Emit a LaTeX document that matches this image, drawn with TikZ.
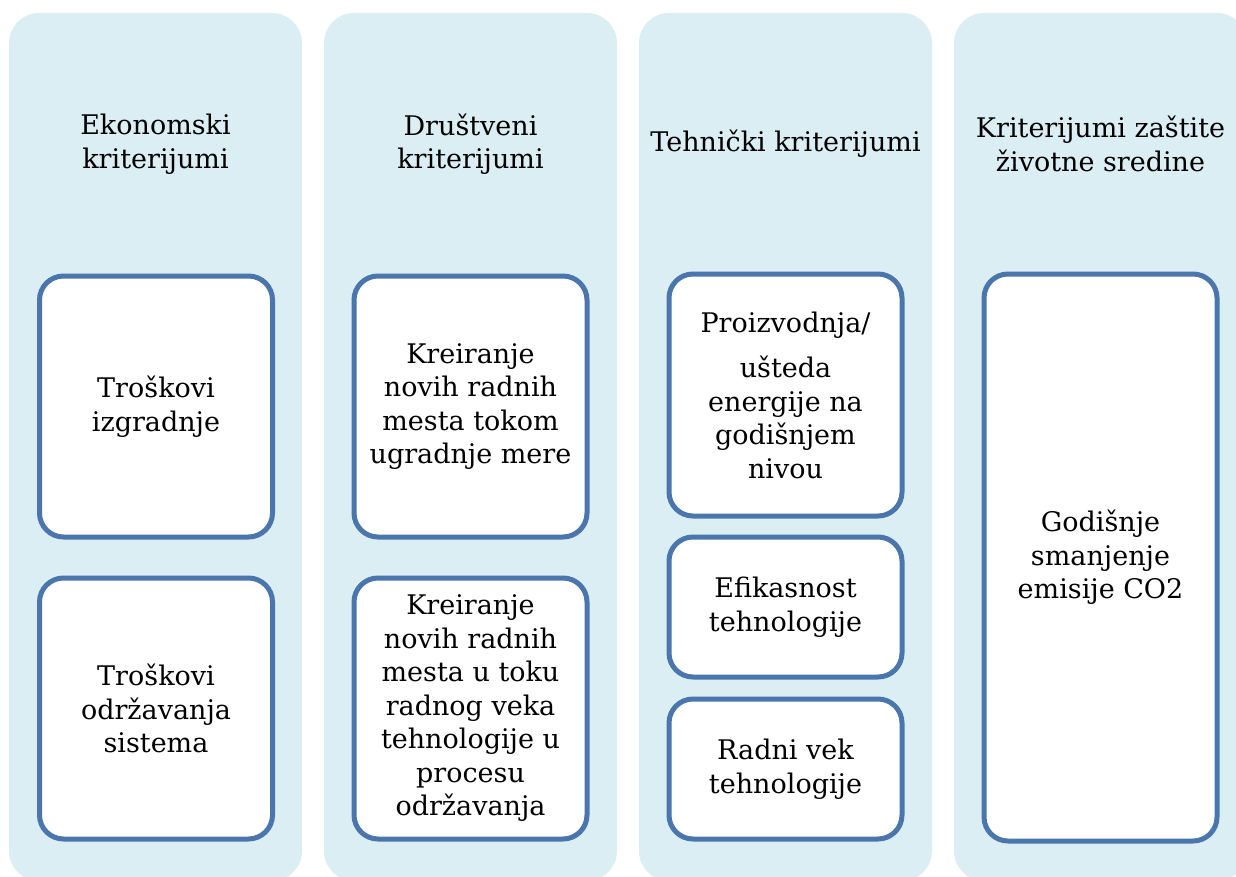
\documentclass[tikz,border=0pt]{standalone}
\usepackage{fontspec}
\setmainfont{DejaVu Serif}
\usetikzlibrary{positioning}

\definecolor{colfill}{RGB}{219,238,244}
\definecolor{boxline}{RGB}{74,118,173}

\begin{document}
\begin{tikzpicture}[x=1pt, y=-1pt,
  column/.style={fill=colfill, rounded corners=30pt},
  crit/.style={draw=boxline, line width=5pt, fill=white, rounded corners=24pt,
    minimum width=233pt, align=center, font=\fontsize{27}{33.5}\selectfont, inner sep=0pt},
  head/.style={align=center, font=\fontsize{27}{33.5}\selectfont, inner sep=0pt}]
\useasboundingbox (0,0) rectangle (1236,877);
\clip (0,0) rectangle (1236,877);
% columns
\foreach \x in {9, 324, 639, 954} {
 \fill[column] (\x,13) rectangle ++(293,868);
}
% headings
\node[head] (ekoHead) at (155.5,144) {Ekonomski\\kriterijumi};
\node[head] (druHead) at (470.5,144) {Društveni\\kriterijumi};
\node[head] (tehHead) at (785.5,144) {Tehnički kriterijumi};
\node[head] (zasHead) at (1100.5,144) {Kriterijumi zaštite\\životne sredine};
% criteria
\node[crit, minimum height=261pt] (ekoIzg) at (156,406.5) {Troškovi\\izgradnje};
\node[crit, minimum height=261pt] (ekoOdr) at (156,708.5) {Troškovi\\održavanja\\sistema};
\node[crit, minimum height=261pt] (druUgr) at (470.5,406.5) {Kreiranje\\novih radnih\\mesta tokom\\ugradnje mere};
\node[crit, minimum height=261pt] (druVek) at (470.5,708.5) {Kreiranje\\novih radnih\\mesta u toku\\radnog veka\\tehnologije u\\procesu\\održavanja};
\node[crit, minimum height=242pt] (tehUst) at (785.5,395) {Proizvodnja/\\[12pt]ušteda\\energije na\\godišnjem\\nivou};
\node[crit, minimum height=140pt] (tehEfi) at (785.5,607) {Efikasnost\\tehnologije};
\node[crit, minimum height=140pt] (tehVek) at (785.5,769) {Radni vek\\tehnologije};
\node[crit, minimum height=567pt] (zasCO) at (1100.5,557.5) {Godišnje\\smanjenje\\emisije CO2};
\end{tikzpicture}
\end{document}
